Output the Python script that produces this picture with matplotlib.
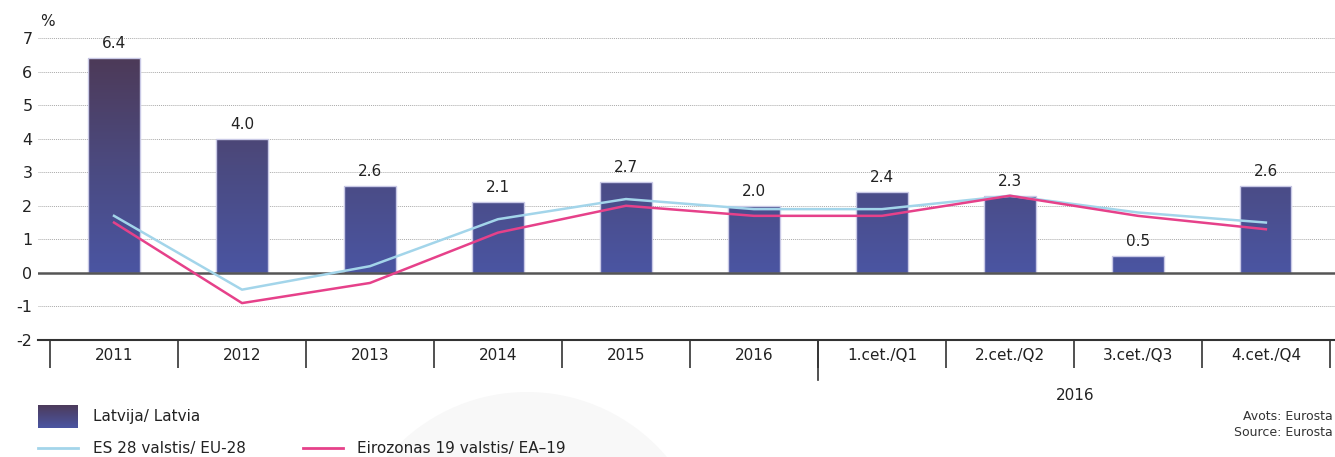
import numpy as np
import matplotlib
matplotlib.use("Agg")
import matplotlib.pyplot as plt
from matplotlib.colors import LinearSegmentedColormap
from matplotlib.lines import Line2D
from matplotlib.patches import Circle
import matplotlib.transforms as mtransforms

categories = ["2011", "2012", "2013", "2014", "2015", "2016",
              "1.cet./Q1", "2.cet./Q2", "3.cet./Q3", "4.cet./Q4"]
latvia = [6.4, 4.0, 2.6, 2.1, 2.7, 2.0, 2.4, 2.3, 0.5, 2.6]
eu28 = [1.7, -0.5, 0.2, 1.6, 2.2, 1.9, 1.9, 2.3, 1.8, 1.5]
ea19 = [1.5, -0.9, -0.3, 1.2, 2.0, 1.7, 1.7, 2.3, 1.7, 1.3]
yticks = [-2, -1, 0, 1, 2, 3, 4, 5, 6, 7]

W, H = 1335, 457
fig = plt.figure(figsize=(W / 100, H / 100), dpi=100)
fig.patch.set_facecolor("white")

# faint decorative circle (pixel-based, inches)
circ = Circle((5.27, (H - 575) / 100), 1.83, transform=fig.dpi_scale_trans,
              facecolor="#f8f8f8", edgecolor="none", zorder=0)
fig.patches.append(circ)

ax = fig.add_axes([38 / W, 1 - 340 / H, (W - 38) / W, (340 - 38) / H])
ax.set_facecolor("none")
x = np.arange(len(categories))

for s in ["top", "right", "left"]:
    ax.spines[s].set_visible(False)
ax.spines["bottom"].set_color("#333333")
ax.spines["bottom"].set_linewidth(1.5)

for yv in yticks[1:]:
    if yv == 0:
        continue
    ax.axhline(yv, color="#aaaaaa", lw=0.7, ls=(0, (1, 1)), zorder=1)
ax.axhline(0, color="#555555", lw=1.8, zorder=4)

cmap = LinearSegmentedColormap.from_list("g", ["#4a55a2", "#4b4a80", "#4d3a58"])
bw = 0.4
bars = ax.bar(x, latvia, width=bw, color="none", edgecolor="#c9c9e6", lw=1.0, zorder=3)
grad = np.linspace(0, 1, 256).reshape(-1, 1)
for b in bars:
    im = ax.imshow(grad, cmap=cmap, aspect="auto", origin="lower",
                   extent=[-0.6, 9.6, 0, 6.4], zorder=2, interpolation="bilinear")
    im.set_clip_path(b)
ax.set_xlim(-0.594, 9.54)
ax.set_ylim(-2, 7)

for xi, v in zip(x, latvia):
    ax.annotate(f"{v:.1f}", (xi, v), xytext=(0, 5), textcoords="offset points",
                ha="center", va="bottom", fontsize=11, color="#222222", zorder=6)

ax.plot(x, eu28, color="#a3d5ea", lw=1.8, zorder=5)
ax.plot(x, ea19, color="#e6418a", lw=1.8, zorder=5)

ax.set_yticks(yticks)
ax.set_yticklabels([str(v) for v in yticks], fontsize=11.5, color="#222222")
ax.tick_params(axis="y", length=0, pad=4)

ax.set_xticks(x)
ax.set_xticklabels(categories, fontsize=11, color="#222222")
ax.set_xticks(np.arange(-0.5, 10, 1), minor=True)
ax.tick_params(axis="x", which="major", length=0, pad=6)
ax.tick_params(axis="x", which="minor", length=20, width=1.2, color="#333333", direction="out")

trans = mtransforms.blended_transform_factory(ax.transData, fig.transFigure)
ax.add_line(Line2D([5.5, 5.5], [1 - 340 / H, 1 - 380 / H], transform=trans,
                   color="#333333", lw=1.2, clip_on=False))

fig.text(1075 / W, 1 - 395 / H, "2016", ha="center", va="center", fontsize=11, color="#222222")
fig.text(40 / W, 1 - 22 / H, "%", ha="left", va="center", fontsize=11, color="#222222")

# legend
lax = fig.add_axes([38 / W, 1 - 428 / H, 40 / W, 23 / H])
lax.imshow(grad, cmap=LinearSegmentedColormap.from_list("l", ["#4a55a2", "#4d3a58"]),
           aspect="auto", origin="lower", extent=[0, 1, 0, 1])
lax.axis("off")
fig.text(93 / W, 1 - 417 / H, "Latvija/ Latvia", ha="left", va="center", fontsize=11, color="#222222")
fig.add_artist(Line2D([38 / W, 78 / W], [1 - 448 / H, 1 - 448 / H], transform=fig.transFigure,
                      color="#a3d5ea", lw=2))
fig.text(93 / W, 1 - 448 / H, "ES 28 valstis/ EU-28", ha="left", va="center", fontsize=11, color="#222222")
fig.add_artist(Line2D([303 / W, 343 / W], [1 - 448 / H, 1 - 448 / H], transform=fig.transFigure,
                      color="#e6418a", lw=2))
fig.text(357 / W, 1 - 448 / H, "Eirozonas 19 valstis/ EA\u201319", ha="left", va="center",
         fontsize=11, color="#222222")

fig.text(1333 / W, 1 - 416 / H, "Avots: Eurosta", ha="right", va="center", fontsize=9, color="#333333")
fig.text(1333 / W, 1 - 433 / H, "Source: Eurosta", ha="right", va="center", fontsize=9, color="#333333")

fig.savefig("out.png", dpi=100, facecolor="white")
